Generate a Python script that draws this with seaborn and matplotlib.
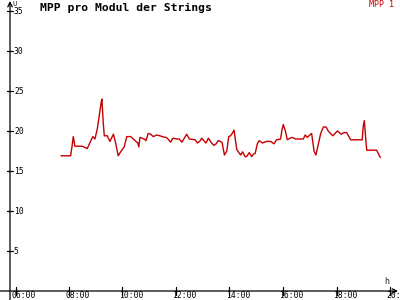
import matplotlib
matplotlib.use("Agg")
import matplotlib.pyplot as plt
import seaborn as sns
import pandas as pd

# ---- data ----
hours = [7.70, 8.06, 8.11, 8.16, 8.22, 8.50, 8.68, 8.89, 8.97, 9.06, 9.16, 9.20, 9.23,
         9.28, 9.32, 9.43, 9.53, 9.66, 9.73, 9.84, 9.93, 10.06, 10.16, 10.31, 10.47,
         10.57, 10.61, 10.65, 10.81, 10.88, 10.96, 11.05, 11.15, 11.28, 11.40, 11.53,
         11.63, 11.70, 11.80, 11.88, 12.03, 12.12, 12.22, 12.40, 12.50, 12.72, 12.80,
         12.90, 12.96, 13.12, 13.21, 13.33, 13.42, 13.50, 13.58, 13.72, 13.81, 13.90,
         13.97, 14.04, 14.10, 14.17, 14.27, 14.37, 14.42, 14.49, 14.58, 14.64, 14.74,
         14.83, 14.89, 14.96, 15.04, 15.11, 15.23, 15.39, 15.54, 15.66, 15.76, 15.91,
         15.96, 16.01, 16.09, 16.16, 16.26, 16.35, 16.47, 16.76, 16.83, 16.91, 17.07,
         17.16, 17.23, 17.33, 17.41, 17.51, 17.61, 17.69, 17.86, 18.03, 18.18, 18.28,
         18.38, 18.53, 18.96, 19.00, 19.04, 19.09, 19.13, 19.50, 19.56, 19.64]
mpp1 = [16.9, 16.9, 18.0, 19.3, 18.1, 18.1, 17.8, 19.3, 19.0, 20.3, 22.6, 23.5, 24.0,
        21.0, 19.4, 19.4, 18.7, 19.6, 18.7, 16.9, 17.4, 18.0, 19.3, 19.3, 18.8,
        18.5, 18.0, 19.2, 19.0, 18.8, 19.7, 19.6, 19.3, 19.5, 19.4, 19.25,
        19.2, 19.0, 18.6, 19.1, 19.0, 19.0, 18.6, 19.6, 19.0, 18.9, 18.5,
        18.75, 19.1, 18.5, 19.1, 18.5, 18.2, 18.4, 18.8, 18.6, 17.0, 17.5,
        19.3, 19.4, 19.7, 20.1, 17.7, 17.2, 17.0, 17.4, 16.8, 16.8, 17.3,
        16.8, 17.1, 17.2, 18.4, 18.8, 18.5, 18.7, 18.7, 18.4, 18.9, 19.0,
        20.1, 20.8, 20.0, 18.9, 19.1, 19.2, 19.0, 19.0, 19.5, 19.2, 19.7,
        17.5, 17.0, 18.5, 19.7, 20.5, 20.5, 20.0, 19.4, 20.0, 19.6, 19.8,
        19.8, 18.9, 18.9, 20.6, 21.3, 19.1, 17.6, 17.6, 17.2, 16.7]
x_ticks = [6, 8, 10, 12, 14, 16, 18, 20]
x_tick_labels = ["06:00", "08:00", "10:00", "12:00", "14:00", "16:00", "18:00", "20:00"]
y_ticks = [5, 10, 15, 20, 25, 30, 35]
title = "MPP pro Modul der Strings"
series_name = "MPP 1"

df = pd.DataFrame({"t": hours, "v": mpp1})

sns.set_style("white")
plt.rcParams["font.family"] = ["DejaVu Sans Mono"]

fig = plt.figure(figsize=(4, 3), dpi=100)
ax = fig.add_axes([0, 0, 1, 1])
ax.set_axis_off()

# pixel mapping: 26.75 px per hour, 06:00 at x=15.5 ; 8 px per unit, 0 at y=291
XMIN, XMAX = 6 - 15.5 / 26.75, 6 + 384.5 / 26.75
YMIN, YMAX = -9 / 8, 291 / 8
ax.set_xlim(XMIN, XMAX)
ax.set_ylim(YMIN, YMAX)
yaxis_x = 6 - 5.5 / 26.75
dx = 1 / 26.75
dy = 1 / 8

red = "#c40000"
sns.lineplot(data=df, x="t", y="v", ax=ax, color=red, lw=1.0,
             sort=False, estimator=None, legend=False)

# axes with arrows
ax.annotate("", xy=(XMAX - 2 * dx, 0), xytext=(XMIN, 0),
            arrowprops=dict(arrowstyle="->", lw=0.9, color="black",
                            shrinkA=0, shrinkB=0, mutation_scale=8))
ax.annotate("", xy=(yaxis_x, YMAX - 1 * dy), xytext=(yaxis_x, YMIN),
            arrowprops=dict(arrowstyle="->", lw=0.9, color="black",
                            shrinkA=0, shrinkB=0, mutation_scale=8))

# x ticks
for t, lab in zip(x_ticks, x_tick_labels):
    ax.plot([t, t], [-4 * dy, 4 * dy], color="black", lw=0.9)
    ax.text(t - 3.5 * dx, -4.6 * dy, lab, fontsize=5.8, ha="left", va="center",
            color="black")

# y ticks
for v in y_ticks:
    ax.plot([yaxis_x - 3 * dx, yaxis_x + 3 * dx], [v, v], color="black", lw=0.9)
    ax.text(yaxis_x + 4 * dx, v, str(v), fontsize=5.8, ha="left", va="center",
            color="black")

# axis unit labels
ax.text(yaxis_x + 2.5 * dx, YMAX - 3.5 * dy, "U", fontsize=5, ha="left", va="center")
ax.text(XMIN + 387 * dx, YMAX - 281 * dy, "h", fontsize=6, ha="center", va="center")

# title and legend
ax.text(XMIN + 40 * dx, YMAX - 7.5 * dy, title, fontsize=8.2, fontweight="bold",
        ha="left", va="center", color="black")
ax.text(XMIN + 394 * dx, YMAX - 4.5 * dy, series_name, fontsize=6, ha="right",
        va="center", color=red)

fig.savefig("out.png", dpi=100, facecolor="white")
